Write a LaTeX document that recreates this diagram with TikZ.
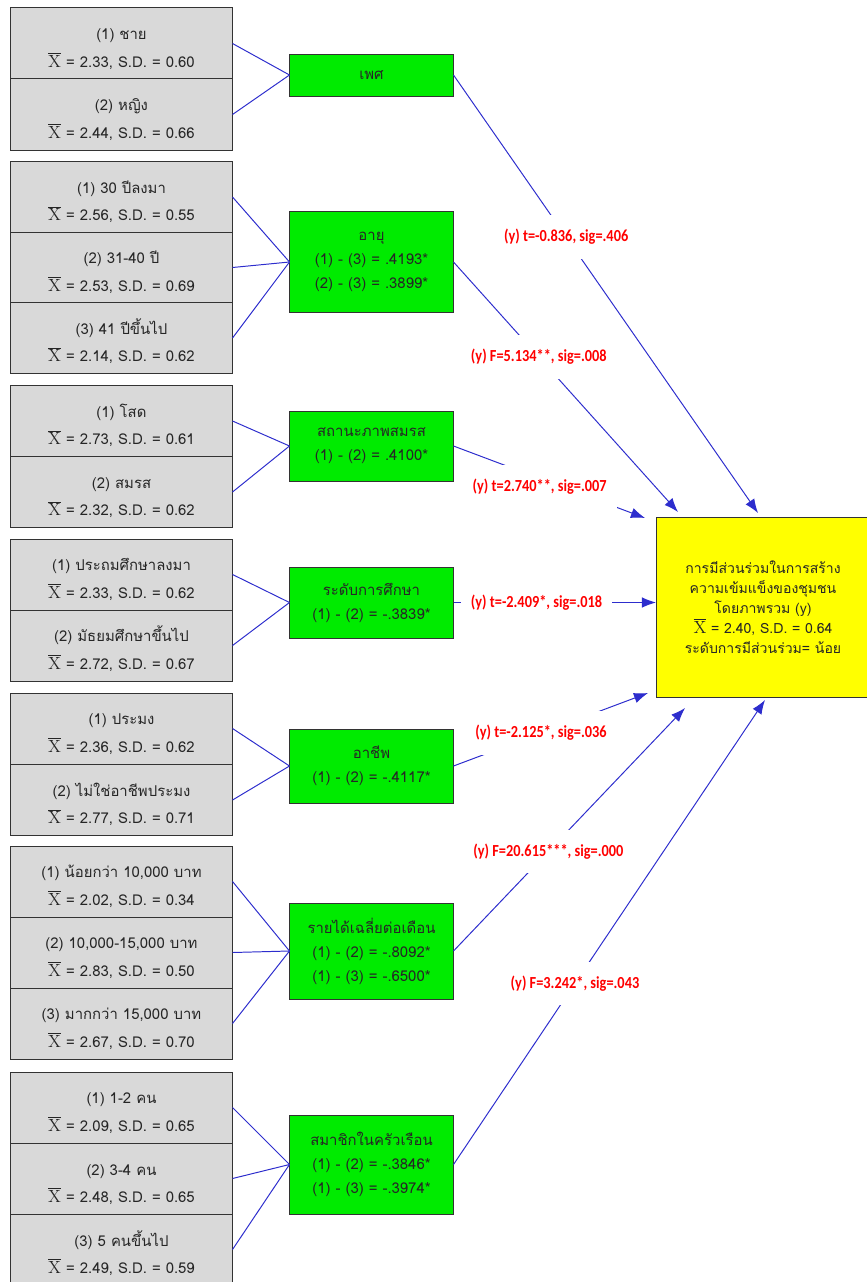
\documentclass[tikz,border=0pt]{standalone}
\usepackage{fontspec}
\usepackage{tikz}
\usetikzlibrary{arrows.meta}
\newfontfamily\thaifont[Script=Thai]{Loma}
\newfontfamily\sigfont[FakeStretch=0.85]{Carlito}
\definecolor{cellgrey}{RGB}{217,217,217}
\definecolor{grpgreen}{RGB}{0,235,0}
\definecolor{resyellow}{RGB}{255,255,0}
\definecolor{linkblue}{RGB}{45,45,205}
\newcommand{\xbar}{{\fontsize{12.5}{12}\selectfont$\overline{\mathrm{X}}$}}
\newcommand{\cellstrut}{\rule{0pt}{16pt}}

\begin{document}
\begin{tikzpicture}[x=0.025cm,y=-0.025cm,
  cell/.style={rectangle, draw=black!80, fill=cellgrey, line width=0.7pt, minimum width=5.525cm, minimum height=1.775cm, inner sep=0pt, align=center, text=black!85, font=\thaifont\fontsize{10.6}{19.5}\selectfont},
  grp/.style={rectangle, draw=black!80, fill=grpgreen, line width=0.7pt, minimum width=4.075cm, inner sep=0pt, align=center, text=black!85, font=\thaifont\fontsize{10.6}{17}\selectfont},
  res/.style={rectangle, draw=black!80, fill=resyellow, line width=0.7pt, minimum width=5.3cm, minimum height=4.475cm, inner sep=0pt, align=center, text=black!85, font=\thaifont\fontsize{10}{14.2}\selectfont},
  sig/.style={fill=white, text=red, inner xsep=7pt, inner ysep=10pt, font=\sigfont\bfseries\fontsize{12}{14}\selectfont},
  link/.style={draw=linkblue, line width=0.7pt},
  arr/.style={link, -{Latex[length=10pt,width=7.5pt]}}]
\useasboundingbox (0,0) rectangle (867,1282);

% Points
\node[cell] (sex1) at (121.5,43.5) {\cellstrut(1) ชาย\\\xbar{} = 2.33, S.D. = 0.60};
\node[cell] (sex2) at (121.5,114.5) {\cellstrut(2) หญิง\\\xbar{} = 2.44, S.D. = 0.66};

\node[cell] (age1) at (121.5,197) {\cellstrut(1) 30 ปีลงมา\\\xbar{} = 2.56, S.D. = 0.55};
\node[cell] (age2) at (121.5,267.5) {\cellstrut(2) 31-40 ปี\\\xbar{} = 2.53, S.D. = 0.69};
\node[cell] (age3) at (121.5,338) {\cellstrut(3) 41 ปีขึ้นไป\\\xbar{} = 2.14, S.D. = 0.62};

\node[cell] (mar1) at (121.5,421) {\cellstrut(1) โสด\\\xbar{} = 2.73, S.D. = 0.61};
\node[cell] (mar2) at (121.5,492) {\cellstrut(2) สมรส\\\xbar{} = 2.32, S.D. = 0.62};

\node[cell] (edu1) at (121.5,574.5) {\cellstrut(1) ประถมศึกษาลงมา\\\xbar{} = 2.33, S.D. = 0.62};
\node[cell] (edu2) at (121.5,645.5) {\cellstrut(2) มัธยมศึกษาขึ้นไป\\\xbar{} = 2.72, S.D. = 0.67};

\node[cell] (occ1) at (121.5,728.5) {\cellstrut(1) ประมง\\\xbar{} = 2.36, S.D. = 0.62};
\node[cell] (occ2) at (121.5,800) {\cellstrut(2) ไม่ใช่อาชีพประมง\\\xbar{} = 2.77, S.D. = 0.71};

\node[cell] (inc1) at (121.5,881.5) {\cellstrut(1) น้อยกว่า 10,000 บาท\\\xbar{} = 2.02, S.D. = 0.34};
\node[cell] (inc2) at (121.5,952.5) {\cellstrut(2) 10,000-15,000 บาท\\\xbar{} = 2.83, S.D. = 0.50};
\node[cell] (inc3) at (121.5,1023.5) {\cellstrut(3) มากกว่า 15,000 บาท\\\xbar{} = 2.67, S.D. = 0.70};

\node[cell] (mem1) at (121.5,1107.5) {\cellstrut(1) 1-2 คน\\\xbar{} = 2.09, S.D. = 0.65};
\node[cell] (mem2) at (121.5,1178.5) {\cellstrut(2) 3-4 คน\\\xbar{} = 2.48, S.D. = 0.65};
\node[cell] (mem3) at (121.5,1249.5) {\cellstrut(3) 5 คนขึ้นไป\\\xbar{} = 2.49, S.D. = 0.59};

\node[grp, minimum height=1.05cm] (sex) at (371.5,75) {เพศ};
\node[grp, minimum height=2.5cm] (age) at (371.5,262) {อายุ\\(1) - (3) = .4193*\\(2) - (3) = .3899*};
\node[grp, minimum height=1.75cm] (mar) at (371.5,446) {สถานะภาพสมรส\\(1) - (2) = .4100*};
\node[grp, minimum height=1.775cm] (edu) at (371.5,602.5) {ระดับการศึกษา\\(1) - (2) = -.3839*};
\node[grp, minimum height=1.85cm] (occ) at (371.5,766) {อาชีพ\\(1) - (2) = -.4117*};
\node[grp, minimum height=2.4cm] (inc) at (371.5,951) {รายได้เฉลี่ยต่อเดือน\\(1) - (2) = -.8092*\\(1) - (3) = -.6500*};
\node[grp, minimum height=2.475cm] (mem) at (371.5,1164.5) {สมาชิกในครัวเรือน\\(1) - (2) = -.3846*\\(1) - (3) = -.3974*};

\node[res] (part) at (763,607.5) {การมีส่วนร่วมในการสร้าง\\ความเข้มแข็งของชุมชน\\โดยภาพรวม (y)\\\xbar{} = 2.40, S.D. = 0.64\\ระดับการมีส่วนร่วม= น้อย};

\coordinate (in1) at (758,513);
\coordinate (in2) at (678,512);
\coordinate (in3) at (645,518);
\coordinate (in4) at (656,602.5);
\coordinate (in5) at (648,693);
\coordinate (in6) at (685,708);
\coordinate (in7) at (765,700);

%Lines
\draw[link] (sex1.east) -- (sex.west);
\draw[link] (sex2.east) -- (sex.west);
\draw[link] (age1.east) -- (age.west);
\draw[link] (age2.east) -- (age.west);
\draw[link] (age3.east) -- (age.west);
\draw[link] (mar1.east) -- (mar.west);
\draw[link] (mar2.east) -- (mar.west);
\draw[link] (edu1.east) -- (edu.west);
\draw[link] (edu2.east) -- (edu.west);
\draw[link] (occ1.east) -- (occ.west);
\draw[link] (occ2.east) -- (occ.west);
\draw[link] (inc1.east) -- (inc.west);
\draw[link] (inc2.east) -- (inc.west);
\draw[link] (inc3.east) -- (inc.west);
\draw[link] (mem1.east) -- (mem.west);
\draw[link] (mem2.east) -- (mem.west);
\draw[link] (mem3.east) -- (mem.west);

\draw[arr] (sex.east) -- node[sig, pos=0.37] {(y) t=-0.836, sig=.406} (in1);
\draw[arr] (age.east) -- node[sig, pos=0.38] {(y) F=5.134**, sig=.008} (in2);
\draw[arr] (mar.east) -- node[sig, pos=0.45, yshift=-6pt] {(y) t=2.740**, sig=.007} (in3);
\draw[arr] (edu.east) -- node[sig, pos=0.41] {(y) t=-2.409*, sig=.018} (in4);
\draw[arr] (occ.east) -- node[sig, pos=0.45] {(y) t=-2.125*, sig=.036} (in5);
\draw[arr] (inc.east) -- node[sig, pos=0.41] {(y) F=20.615***, sig=.000} (in6);
\draw[arr] (mem.east) -- node[sig, pos=0.39] {(y) F=3.242*, sig=.043} (in7);
\end{tikzpicture}
\end{document}
